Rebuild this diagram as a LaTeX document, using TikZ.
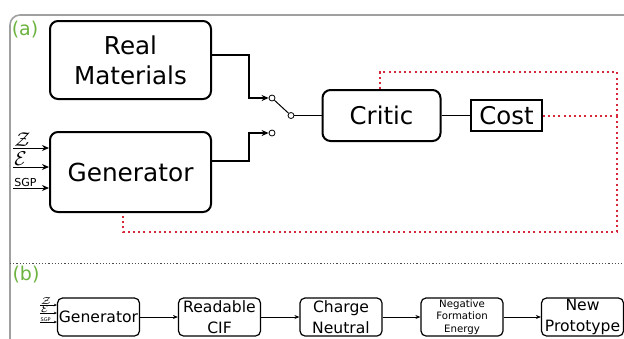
\documentclass[tikz,border=0pt]{standalone}
\usepackage{fontspec}
\setmainfont{DejaVu Sans}
\usetikzlibrary{arrows.meta,positioning,calc}
\definecolor{Frame}{HTML}{A0A0A0}
\definecolor{Loss}{HTML}{D8283C}
\definecolor{Tag}{HTML}{6DB33F}
\newcommand{\FS}[2]{\fontsize{#1}{#2}\selectfont}

\begin{document}
\begin{tikzpicture}[x=0.5pt,y=-0.5pt,
  block/.style={draw,line width=1pt,rounded corners=4pt,align=center,inner sep=1pt},
  smallblock/.style={draw,line width=0.6pt,rounded corners=2.5pt,align=center,inner sep=0.5pt,minimum width=41pt,minimum height=19pt},
  wire/.style={line width=0.9pt},
  thin/.style={line width=0.5pt},
  contact/.style={circle,draw,fill=white,inner sep=0pt,minimum size=3pt,line width=0.4pt},
  feedback/.style={Loss,line width=0.7pt,dash pattern=on 1pt off 1.6pt},
  tag/.style={text=Tag,font=\FS{9.5}{11}},
  >={Stealth[length=3.5pt,width=3pt]}]
\useasboundingbox (0,0) rectangle (624,338);
\clip (0,0) rectangle (624,338);

% frame and separator
\draw[Frame,line width=0.8pt,rounded corners=5pt] (10,350) -- (10,15) -- (640,15) -- (640,350);
\draw[black!70,line width=0.5pt,dash pattern=on 0.6pt off 1pt] (10,263) -- (624,263);
\node[tag] (taga) at (25,30) {(a)};
\node[tag] (tagb) at (26,275) {(b)};

% (a) training loop
\node[block,minimum width=80.5pt,minimum height=39pt,font=\FS{12.3}{15}] (real) at (130.5,60) {Real\\Materials};
\node[block,minimum width=80.5pt,minimum height=40pt,font=\FS{12.4}{15}] (gen) at (130.5,172) {Generator};
\node[block,minimum width=59pt,minimum height=25.5pt,font=\FS{12.2}{15}] (critic) at (381.5,115.5) {Critic};
\node[draw,line width=0.8pt,minimum width=35.5pt,minimum height=15.5pt,inner sep=0.5pt,font=\FS{12.2}{15}] (cost) at (506.5,115.5) {Cost};

\node[contact] (up) at (272,98) {};
\node[contact] (down) at (272,133) {};
\node[contact] (pivot) at (291,115.5) {};

\draw[wire,->] ([yshift=2.5pt]real.east) -- ++(37,0) |- (up);
\draw[wire,->] ([yshift=5.5pt]gen.east) -- ++(37,0) |- (down);
\draw[thin] (up) -- (pivot);
\draw[thin] (pivot) -- (critic.west);
\draw[thin] (critic) -- (cost);

% inputs
\coordinate (zin) at (13,148);
\coordinate (ein) at (13,167);
\coordinate (sin) at (13,188);
\node[anchor=south west,inner sep=0.5pt,font=\FS{10}{12}] (zlab) at (zin) {$\mathcal{Z}$};
\node[anchor=south west,inner sep=0.5pt,font=\FS{10}{12}] (elab) at (ein) {$\mathcal{E}$};
\node[anchor=south west,inner sep=0.5pt,font=\FS{5.5}{6}] (slab) at (sin) {SGP};
\draw[thin,->] (zin) -- (zin -| gen.west);
\draw[thin,->] (ein) -- (ein -| gen.west);
\draw[thin,->] (sin) -- (sin -| gen.west);

% feedback from the cost
\coordinate (fbtop) at (617,72);
\coordinate (fbmid) at (617,116);
\coordinate (fbbot) at (617,232);
\draw[feedback] (cost.east |- fbmid) -- (fbmid);
\draw[feedback] (fbmid) -- (fbtop) -| ([xshift=-0.75pt]critic.north);
\draw[feedback] (fbmid) -- (fbbot) -| ([xshift=-3.75pt]gen.south);

% (b) generation pipeline
\node[smallblock,font=\FS{7.8}{9}] (gen2) at (98.5,317) {Generator};
\node[smallblock,font=\FS{7.8}{10.5}] (cif) at (219.5,317) {Readable\\CIF};
\node[smallblock,font=\FS{7.8}{10.5}] (neutral) at (341,317) {Charge\\Neutral};
\node[smallblock,font=\FS{5.1}{6.3}] (energy) at (462,317) {Negative\\Formation\\Energy};
\node[smallblock,font=\FS{7.8}{10.5}] (proto) at (582.5,317) {New\\Prototype};

\foreach \a/\b in {gen2/cif,cif/neutral,neutral/energy,energy/proto}
  \draw[thin,-{Stealth[length=2.5pt,width=2pt]}] (\a) -- (\b);

\coordinate (zin2) at (40,305);
\coordinate (ein2) at (40,313);
\coordinate (sin2) at (40,322);
\node[anchor=south west,inner sep=0.1pt,font=\FS{3.8}{4}] (zlab2) at (zin2) {$\mathcal{Z}$};
\node[anchor=south west,inner sep=0.1pt,font=\FS{3.8}{4}] (elab2) at (ein2) {$\mathcal{E}$};
\node[anchor=south west,inner sep=0.1pt,font=\FS{2.5}{3}] (slab2) at (sin2) {SGP};
\foreach \c in {zin2,ein2,sin2}
  \draw[line width=0.3pt,-{Stealth[length=1.5pt,width=1.3pt]}] (\c) -- (\c -| gen2.west);
\end{tikzpicture}
\end{document}
